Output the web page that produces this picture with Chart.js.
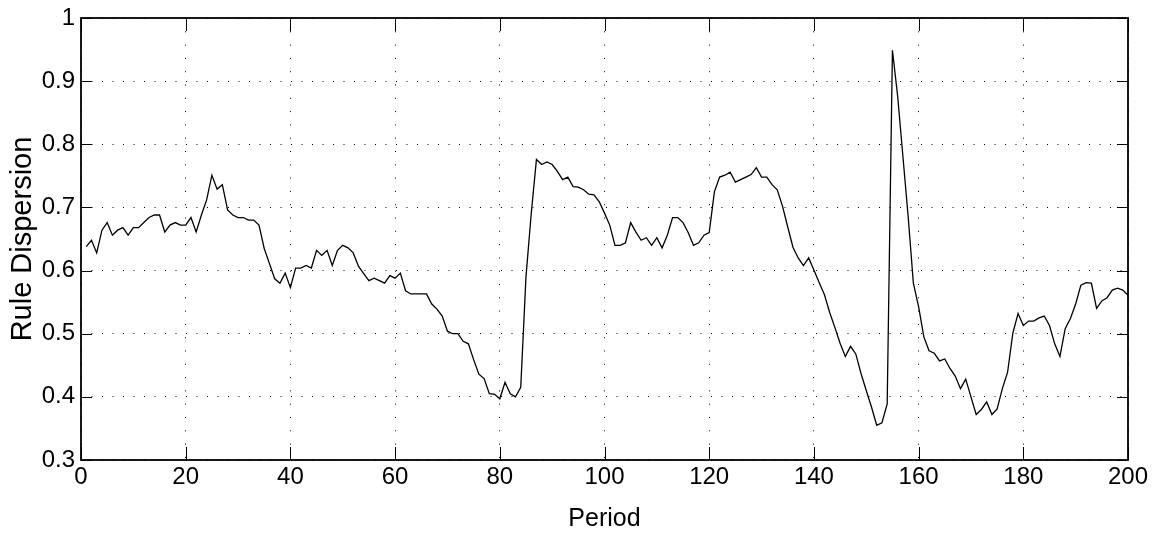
<!DOCTYPE html>
<html>
<head>
<meta charset="utf-8">
<script src="https://cdn.jsdelivr.net/npm/chart.js@4.4.1/dist/chart.umd.min.js"></script>
<style>
  html, body { margin: 0; padding: 0; background: #fff; }
  #wrap { width: 1155px; height: 541px; }
</style>
</head>
<body>
<div id="wrap"><canvas id="chart" width="1155" height="541"></canvas></div>
<script>
// Rule dispersion per period (1..200)
const dispersion = [
    0.638, 0.648, 0.628, 0.664, 0.676, 0.656, 0.664, 0.668, 0.656, 0.668,
    0.668, 0.676, 0.684, 0.688, 0.688, 0.661, 0.672, 0.676, 0.672, 0.672,
    0.684, 0.661, 0.688, 0.712, 0.751, 0.729, 0.736, 0.696, 0.688, 0.684,
    0.684, 0.680, 0.680, 0.672, 0.635, 0.611, 0.587, 0.580, 0.596, 0.573,
    0.604, 0.604, 0.608, 0.604, 0.632, 0.624, 0.632, 0.608, 0.632, 0.640,
    0.636, 0.628, 0.607, 0.595, 0.584, 0.588, 0.584, 0.580, 0.592, 0.588,
    0.596, 0.568, 0.563, 0.563, 0.563, 0.563, 0.547, 0.539, 0.528, 0.504,
    0.500, 0.500, 0.488, 0.484, 0.459, 0.436, 0.429, 0.405, 0.404, 0.397,
    0.423, 0.405, 0.400, 0.415, 0.590, 0.690, 0.776, 0.768, 0.772, 0.768,
    0.757, 0.744, 0.748, 0.733, 0.732, 0.728, 0.721, 0.720, 0.709, 0.691,
    0.672, 0.640, 0.640, 0.644, 0.676, 0.661, 0.648, 0.652, 0.640, 0.652,
    0.636, 0.656, 0.684, 0.684, 0.676, 0.660, 0.640, 0.644, 0.656, 0.660,
    0.725, 0.748, 0.751, 0.756, 0.740, 0.744, 0.748, 0.752, 0.763, 0.748,
    0.748, 0.736, 0.728, 0.702, 0.669, 0.637, 0.620, 0.608, 0.620, 0.601,
    0.581, 0.562, 0.534, 0.510, 0.485, 0.464, 0.480, 0.468, 0.437, 0.410,
    0.384, 0.355, 0.359, 0.389, 0.949, 0.876, 0.781, 0.686, 0.580, 0.543,
    0.495, 0.473, 0.469, 0.457, 0.460, 0.445, 0.433, 0.413, 0.428, 0.400,
    0.372, 0.380, 0.392, 0.372, 0.381, 0.413, 0.439, 0.501, 0.532, 0.513,
    0.520, 0.520, 0.525, 0.528, 0.513, 0.484, 0.464, 0.508, 0.524, 0.547,
    0.577, 0.581, 0.580, 0.540, 0.552, 0.557, 0.569, 0.572, 0.569, 0.561
];
const periods = dispersion.map((v, i) => i + 1);

const xTicks = [0, 20, 40, 60, 80, 100, 120, 140, 160, 180, 200];
const yTicks = [0.3, 0.4, 0.5, 0.6, 0.7, 0.8, 0.9, 1];

const FONT = "'Liberation Sans', Arial, Helvetica, sans-serif";

// Matlab-style box with inward tick marks on all four sides
const boxAxes = {
    id: 'boxAxes',
    afterDraw(chart) {
        const { ctx, chartArea: a, scales: { x, y } } = chart;
        ctx.save();
        ctx.strokeStyle = '#000';
        ctx.lineWidth = 1;
        ctx.beginPath();
        xTicks.forEach(t => {
            const px = Math.round(x.getPixelForValue(t)) + 0.5;
            ctx.moveTo(px, a.bottom); ctx.lineTo(px, a.bottom - 13);
            ctx.moveTo(px, a.top); ctx.lineTo(px, a.top + 13);
        });
        yTicks.forEach(t => {
            const py = Math.round(y.getPixelForValue(t)) + 0.5;
            ctx.moveTo(a.left, py); ctx.lineTo(a.left + 11, py);
            ctx.moveTo(a.right, py); ctx.lineTo(a.right - 11, py);
        });
        ctx.stroke();
        ctx.lineWidth = 1.8;
        ctx.strokeRect(a.left, a.top, a.right - a.left, a.bottom - a.top);
        ctx.restore();
    }
};

const ctx = document.getElementById('chart').getContext('2d');
const chart = new Chart(ctx, {
    type: 'line',
    data: {
        datasets: [{
            data: periods.map((p, i) => ({ x: p, y: dispersion[i] })),
            borderColor: '#000',
            borderWidth: 1.3,
            pointRadius: 0,
            tension: 0,
            fill: false
        }]
    },
    options: {
        responsive: false,
        animation: false,
        layout: { padding: { left: 0, top: 18, right: 27, bottom: 0 } },
        plugins: {
            legend: { display: false },
            tooltip: { enabled: false }
        },
        scales: {
            x: {
                type: 'linear',
                min: 0,
                max: 200,
                afterBuildTicks: s => { s.ticks = xTicks.map(v => ({ value: v })); },
                afterFit: s => { s.height = 81; },
                grid: {
                    color: '#000',
                    lineWidth: 1,
                    drawTicks: false
                },
                // in Chart.js v4 the grid line dash comes from border.dash
                border: { display: false, dash: [1, 12.3] },
                ticks: {
                    padding: 5,
                    color: '#000',
                    maxRotation: 0,
                    font: { family: FONT, size: 24, lineHeight: 1 }
                },
                title: {
                    display: true,
                    text: 'Period',
                    color: '#000',
                    padding: { top: 0, bottom: 9 },
                    font: { family: FONT, size: 25, lineHeight: 1 }
                }
            },
            y: {
                min: 0.3,
                max: 1,
                afterBuildTicks: s => { s.ticks = yTicks.map(v => ({ value: v })); },
                afterFit: s => { s.width = 81; },
                grid: {
                    color: '#000',
                    lineWidth: 1,
                    drawTicks: false
                },
                border: { display: false, dash: [1, 9.5] },
                ticks: {
                    padding: 6,
                    color: '#000',
                    font: { family: FONT, size: 24, lineHeight: 1 },
                    callback: v => String(Number(v.toFixed(1)))
                },
                title: {
                    display: true,
                    text: 'Rule Dispersion',
                    color: '#000',
                    padding: { top: 8, bottom: 0 },
                    font: { family: FONT, size: 29, lineHeight: 1 }
                }
            }
        }
    },
    plugins: [boxAxes]
});
</script>
</body>
</html>
